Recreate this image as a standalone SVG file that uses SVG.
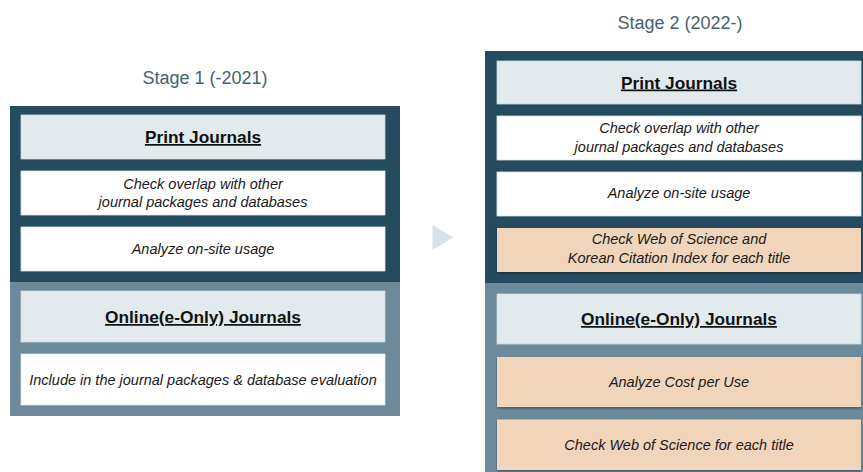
<svg xmlns="http://www.w3.org/2000/svg" width="863" height="472" viewBox="0 0 863 472">
<defs>
<style>
.title{font-family:"Liberation Sans",Arial,sans-serif;font-size:18px;fill:#46626f;text-anchor:middle}
.hdr{font-family:"Liberation Sans",Arial,sans-serif;font-size:17.3px;font-weight:bold;fill:#111;text-anchor:middle;text-decoration:underline}
.it{font-family:"Liberation Sans",Arial,sans-serif;font-size:14.5px;font-style:italic;fill:#1a1a1a;text-anchor:middle}
.dark{fill:#244c5e}
.slate{fill:#6d8a9b}
.hbox{fill:#e3eaed;stroke:#cbd8de;stroke-width:0.8}
.wbox{fill:#ffffff;stroke:#dde6ea;stroke-width:0.8}
.pbox{fill:#f1d5bb;filter:url(#sh)}
</style>
<filter id="sh" x="-5%" y="-20%" width="110%" height="150%">
<feDropShadow dx="0" dy="1.5" stdDeviation="1" flood-color="#000" flood-opacity="0.35"/>
</filter>
</defs>
<rect width="863" height="472" fill="#ffffff"/>

<g id="stage1">
<text class="title" x="205" y="84">Stage 1 (-2021)</text>
<rect class="dark" x="10" y="106" width="390" height="176"/>
<rect class="slate" x="10" y="282" width="390" height="134"/>
<g id="s1-print">
<rect class="hbox" x="21" y="115" width="364" height="44"/>
<text class="hdr" x="203" y="143">Print Journals</text>
</g>
<g id="s1-overlap">
<rect class="wbox" x="21" y="171" width="364" height="44"/>
<text class="it" x="203" y="188.5">Check overlap with other</text>
<text class="it" x="203" y="206.5">journal packages and databases</text>
</g>
<g id="s1-usage">
<rect class="wbox" x="21" y="227" width="364" height="44"/>
<text class="it" x="203" y="253.5">Analyze on-site usage</text>
</g>
<g id="s1-online">
<rect class="hbox" x="21" y="291" width="364" height="51"/>
<text class="hdr" x="203" y="323">Online(e-Only) Journals</text>
</g>
<g id="s1-include">
<rect class="wbox" x="21" y="354" width="364" height="51"/>
<text class="it" x="203" y="384.5">Include in the journal packages &amp; database evaluation</text>
</g>
</g>

<g id="connectors">
<polygon points="432.5,225 453.5,237.5 432.5,250" fill="#d6e3ea"/>
</g>

<g id="stage2">
<text class="title" x="680" y="29">Stage 2 (2022-)</text>
<rect class="dark" x="485" y="51" width="378" height="232"/>
<rect class="slate" x="485" y="283" width="378" height="189"/>
<g id="s2-print">
<rect class="hbox" x="497" y="61" width="364" height="43"/>
<text class="hdr" x="679" y="88.5">Print Journals</text>
</g>
<g id="s2-overlap">
<rect class="wbox" x="497" y="116" width="364" height="44"/>
<text class="it" x="679" y="133">Check overlap with other</text>
<text class="it" x="679" y="152">journal packages and databases</text>
</g>
<g id="s2-usage">
<rect class="wbox" x="497" y="172" width="364" height="44"/>
<text class="it" x="679" y="198">Analyze on-site usage</text>
</g>
<g id="s2-wos-kci">
<rect class="pbox" x="497" y="228" width="364" height="44"/>
<text class="it" x="679" y="243.5">Check Web of Science and</text>
<text class="it" x="679" y="263">Korean Citation Index for each title</text>
</g>
<g id="s2-online">
<rect class="hbox" x="497" y="294" width="364" height="50"/>
<text class="hdr" x="679" y="325">Online(e-Only) Journals</text>
</g>
<g id="s2-cpu">
<rect class="pbox" x="497" y="357" width="364" height="50"/>
<text class="it" x="679" y="387">Analyze Cost per Use</text>
</g>
<g id="s2-wos">
<rect class="pbox" x="497" y="419.5" width="364" height="50.5"/>
<text class="it" x="679" y="449.5">Check Web of Science for each title</text>
</g>
</g>
</svg>
